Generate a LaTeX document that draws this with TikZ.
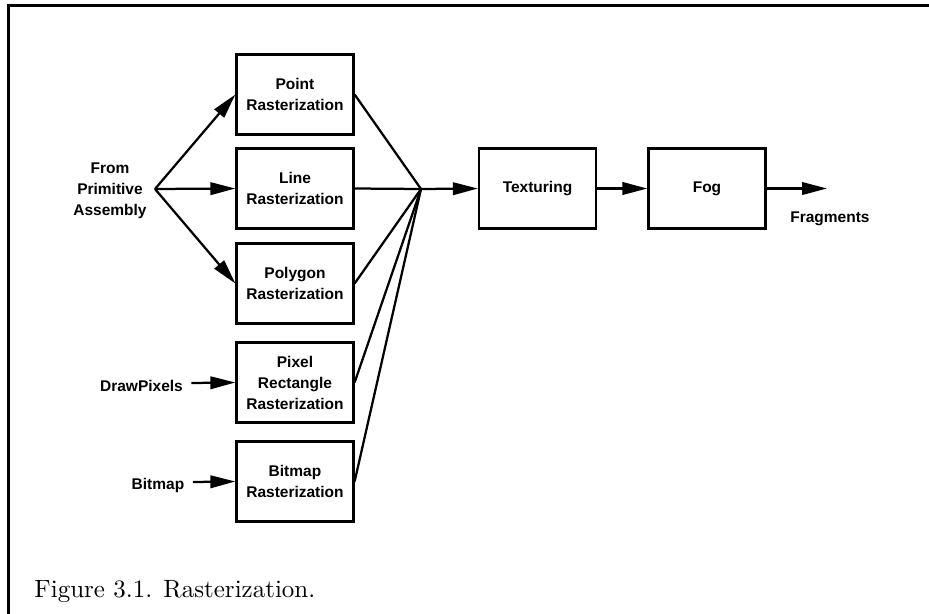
\documentclass[tikz,border=0pt]{standalone}
\usepackage{fontspec}
\setsansfont{Liberation Sans}
\usetikzlibrary{arrows.meta}

\begin{document}
\begin{tikzpicture}[x=0.4pt,y=-0.4pt,
    stage/.style={draw,line width=0.9pt,minimum width=46.8pt,minimum height=32pt,inner sep=0pt,align=center,font=\sffamily\bfseries\fontsize{6.2}{8.4}\selectfont},
    lbl/.style={inner sep=0pt,align=center,font=\sffamily\bfseries\fontsize{6.2}{8.4}\selectfont},
    wire/.style={line width=0.9pt},
    arr/.style={line width=0.9pt,-{Triangle[length=10pt,width=5pt]}}]
    \useasboundingbox(0,0)rectangle(929,614);
    \draw[line width=1.4pt](8.5,614)--(8.5,5.5)--(929,5.5);
    % rasterization stages
    \node[stage](point)at(295,94.5){Point\\Rasterization};
    \node[stage](line)at(295,188.5){Line\\Rasterization};
    \node[stage](polygon)at(295,283.5){Polygon\\Rasterization};
    \node[stage](pixel)at(295,382.5){Pixel\\Rectangle\\Rasterization};
    \node[stage](bitmap)at(295,481.5){Bitmap\\Rasterization};
    \node[stage](tex)at(537.5,188.5){Texturing};
    \node[stage](fog)at(707,188.5){Fog};
    % inputs and output
    \node[lbl](from)at(110,191){From\\Primitive\\Assembly};
    \node[lbl](drawpix)at(141.5,386){DrawPixels};
    \node[lbl](bits)at(158,485){Bitmap};
    \node[lbl](frag)at(830,219){Fragments};
    \coordinate(src)at(155,189);
    \coordinate(join)at(421,189);
    \coordinate(out)at(827,188.5);
    \draw[arr](src)--(point.west);
    \draw[arr](src)--(line.west);
    \draw[arr](src)--(polygon.west);
    \draw[arr](drawpix.east)++(8,-3)--(pixel.west);
    \draw[arr](bits.east)++(8,-3)--(bitmap.west);
    \draw[wire](point.east)--(join);
    \draw[wire](line.east)--(join);
    \draw[wire](polygon.east)--(join);
    \draw[wire](pixel.east)--(join);
    \draw[wire](bitmap.east)--(join);
    \draw[arr](join)--(tex.west);
    \draw[arr](tex)--(fog);
    \draw[arr](fog)--(out);
    \node[anchor=base west,inner sep=0pt](caption)at(34,597){Figure 3.1. Rasterization.};
\end{tikzpicture}
\end{document}
